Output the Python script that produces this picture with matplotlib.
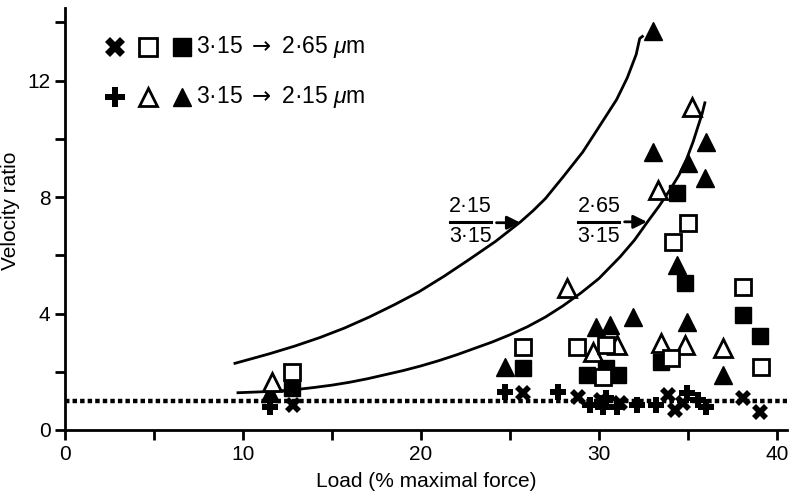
import matplotlib
matplotlib.use("Agg")
import matplotlib.pyplot as plt
import numpy as np

plt.rcParams['font.family'] = ['Liberation Sans', 'DejaVu Sans']
plt.rcParams['mathtext.fontset'] = 'custom'
plt.rcParams['mathtext.it'] = 'Liberation Sans:italic'
plt.rcParams['mathtext.rm'] = 'Liberation Sans'
plt.rcParams['mathtext.sf'] = 'DejaVu Sans'

# ---- data (3.15 -> 2.65 um) ----
x_cross_x = [12.81, 25.75, 28.82, 30.15, 31.18, 33.89, 34.27, 34.74, 38.10, 39.04]
x_cross_y = [0.86, 1.26, 1.14, 1.03, 0.92, 1.20, 0.69, 0.92, 1.09, 0.63]
osq_x = [12.74, 25.75, 28.75, 30.43, 30.24, 34.08, 34.17, 35.02, 38.10, 39.14]
osq_y = [2.00, 2.86, 2.86, 2.92, 1.83, 2.46, 6.47, 7.10, 4.92, 2.18]
fsq_x = [12.74, 25.75, 29.31, 30.43, 31.08, 33.52, 34.87, 34.37, 38.10, 39.04]
fsq_y = [1.44, 2.12, 1.89, 2.12, 1.89, 2.35, 5.04, 8.14, 3.95, 3.24]

# ---- data (3.15 -> 2.15 um) ----
plus_x = [11.52, 24.72, 27.71, 29.49, 30.43, 30.24, 31.00, 32.12, 33.24, 34.93, 35.58, 36.05]
plus_y = [0.80, 1.32, 1.32, 0.86, 1.10, 0.80, 0.80, 0.86, 0.86, 1.26, 1.03, 0.80]
otri_x = [11.61, 28.19, 29.68, 31.00, 33.52, 34.83, 36.98, 33.31, 35.21]
otri_y = [1.66, 4.87, 2.69, 2.92, 2.98, 2.92, 2.81, 8.25, 11.11]
ftri_x = [11.52, 24.70, 29.87, 30.62, 31.93, 34.93, 36.98, 34.37, 33.03, 35.00, 35.96, 36.05, 33.03]
ftri_y = [1.27, 2.18, 3.55, 3.61, 3.89, 3.72, 1.89, 5.67, 9.56, 9.18, 8.66, 9.91, 13.69]

# ---- theoretical curves ----
c1_x = [9.55, 10.5, 11.5, 12.9, 14.3, 15.7, 17.1, 18.5, 19.9, 21.3, 22.7, 24.2,
        25.6, 26.3, 27.0, 28.0, 29.1, 30.0, 31.0, 31.6, 32.1, 32.3, 32.45]
c1_y = [2.29, 2.45, 2.62, 2.88, 3.17, 3.50, 3.88, 4.30, 4.75, 5.28, 5.85, 6.48,
        7.15, 7.53, 7.95, 8.70, 9.55, 10.40, 11.35, 12.10, 12.90, 13.45, 13.52]
c2_x = [9.72, 11.0, 12.0, 13.0, 14.0, 15.0, 16.0, 17.0, 18.0, 19.0, 20.0, 21.0, 22.0,
        23.0, 24.0, 25.0, 26.0, 27.0, 28.0, 29.0, 30.0, 31.2, 32.0, 32.75, 33.4,
        34.0, 34.5, 34.93, 35.3, 35.56, 35.8, 35.96]
c2_y = [1.28, 1.31, 1.34, 1.39, 1.46, 1.54, 1.64, 1.76, 1.90, 2.04, 2.20, 2.38, 2.58,
        2.80, 3.02, 3.27, 3.55, 3.88, 4.27, 4.71, 5.20, 5.95, 6.52, 7.16, 7.70,
        8.25, 8.75, 9.30, 9.90, 10.40, 10.85, 11.24]

ref_level = 1.0

fig = plt.figure(figsize=(7.89, 4.96), dpi=100)
ax = fig.add_axes([0.0824, 0.1331, 0.9156, 0.851])
ax.set_xlim(0, 40.6)
ax.set_ylim(0, 14.5)

ax.axhline(ref_level, color='black', lw=3.2, linestyle=(0, (1.0, 0.7)), zorder=1)

ax.plot(c1_x, c1_y, color='black', lw=2.0, zorder=2, solid_joinstyle='round')
ax.plot(c2_x, c2_y, color='black', lw=2.0, zorder=2, solid_joinstyle='round')

ms = 13
ax.plot(ftri_x, ftri_y, '^', ms=ms, color='black', ls='none', zorder=3)
ax.plot(otri_x, otri_y, '^', ms=ms, mfc='white', mec='black', mew=2.0, ls='none', zorder=4)
ax.plot(fsq_x, fsq_y, 's', ms=ms-1, color='black', ls='none', zorder=3)
ax.plot(osq_x, osq_y, 's', ms=ms-1, mfc='white', mec='black', mew=2.0, ls='none', zorder=4)
ax.plot(plus_x, plus_y, 'P', ms=12, color='black', mew=0, ls='none', zorder=5)
ax.plot(x_cross_x, x_cross_y, 'X', ms=12, color='black', mew=0, ls='none', zorder=5)

# legend (manual)
tr = ax.transAxes
def ax_frac(px, py):
    return ((px - 65) / 722.4, (430 - py) / 422.0)

row1 = 47
row2 = 97
for (px, mk, kw) in [(115, 'X', dict(color='black', mew=0, ms=14)),
                     (148, 's', dict(mfc='white', mec='black', mew=2.0, ms=12.5)),
                     (182, 's', dict(color='black', ms=12.5))]:
    fx, fy = ax_frac(px, row1)
    ax.plot([fx], [fy], mk, transform=tr, clip_on=False, **kw)
for (px, mk, kw) in [(115, 'P', dict(color='black', mew=0, ms=14)),
                     (148, '^', dict(mfc='white', mec='black', mew=2.0, ms=13.5)),
                     (182, '^', dict(color='black', ms=13.5))]:
    fx, fy = ax_frac(px, row2)
    ax.plot([fx], [fy], mk, transform=tr, clip_on=False, **kw)
fx, fy = ax_frac(196, row1)
ax.text(fx, fy, '3·15 $\\mathsf{\\rightarrow}$ 2·65 $\\mu$m', transform=tr, fontsize=16.5, va='center', ha='left')
fx, fy = ax_frac(196, row2)
ax.text(fx, fy, '3·15 $\\mathsf{\\rightarrow}$ 2·15 $\\mu$m', transform=tr, fontsize=16.5, va='center', ha='left')

# fraction annotations
def frac(xc, yb, top, bot, tip_x, tip_y):
    ax.text(xc, yb + 0.52, top, fontsize=15.5, ha='center', va='center')
    ax.text(xc, yb - 0.52, bot, fontsize=15.5, ha='center', va='center')
    ax.plot([xc - 1.15, xc + 1.15], [yb, yb], color='black', lw=2.2)
    ax.annotate('', xy=(tip_x, tip_y), xytext=(xc + 1.45, tip_y),
                arrowprops=dict(arrowstyle='-|>', color='black', lw=2.0,
                                mutation_scale=20, shrinkA=0, shrinkB=0))

frac(22.8, 7.15, '2·15', '3·15', 25.6, 7.12)
frac(30.0, 7.15, '2·65', '3·15', 32.7, 7.15)

# axes styling
for s in ['top', 'right']:
    ax.spines[s].set_visible(False)
for s in ['left', 'bottom']:
    ax.spines[s].set_linewidth(2.0)
ax.set_xticks([0, 10, 20, 30, 40])
ax.set_xticks([5, 15, 25, 35], minor=True)
ax.set_yticks([0, 4, 8, 12])
ax.set_yticks([2, 6, 10, 14], minor=True)
ax.tick_params(which='both', direction='out', length=7, width=2.0, labelsize=15)
ax.set_xlabel('Load (% maximal force)', fontsize=15, labelpad=6)
ax.set_ylabel('Velocity ratio', fontsize=15, labelpad=-1)
ax.yaxis.set_label_coords(-0.062, 0.52)

fig.savefig('out.png', dpi=100)
